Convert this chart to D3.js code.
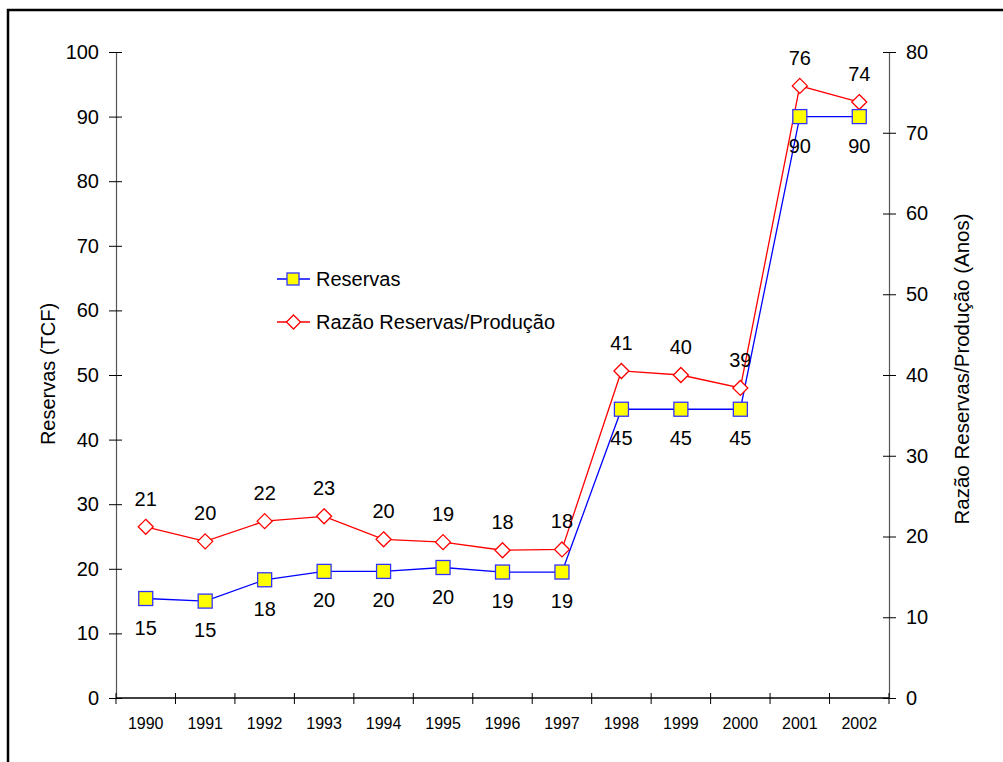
<!DOCTYPE html>
<html>
<head>
<meta charset="utf-8">
<script src="https://cdn.jsdelivr.net/npm/d3@7.9.0/dist/d3.min.js"></script>
<style>
  body { margin: 0; background: #fff; }
  svg { display: block; font-family: "Liberation Sans", Arial, sans-serif; }
</style>
</head>
<body>
<div id="chart"></div>
<script>
const years = ['1990','1991','1992','1993','1994','1995','1996','1997','1998','1999','2000','2001','2002'];
const reservas = [15.4, 15.0, 18.3, 19.6, 19.6, 20.2, 19.5, 19.5, 44.7, 44.7, 44.7, 90.0, 90.0];
const reservasLabels = ['15','15','18','20','20','20','19','19','45','45','45','90','90'];
const razao = [21.2, 19.4, 21.9, 22.5, 19.65, 19.3, 18.3, 18.4, 40.5, 40.0, 38.4, 75.8, 73.8];
const razaoLabels = ['21','20','22','23','20','19','18','18','41','40','39','76','74'];
const leftTicks = [0,10,20,30,40,50,60,70,80,90,100];
const rightTicks = [0,10,20,30,40,50,60,70,80];

const width = 1003, height = 762;
const area = { left: 116, right: 889, top: 52, bottom: 698 };
const fontBig = 20;

const svg = d3.select('#chart').append('svg')
  .attr('width', width).attr('height', height);

// frame
svg.append('rect')
  .attr('x', 8).attr('y', 10)
  .attr('width', 1010).attr('height', 780)
  .attr('fill', 'none').attr('stroke', '#000').attr('stroke-width', 2.5);

const x = d3.scaleBand().domain(years).range([area.left, area.right]);
const yL = d3.scaleLinear().domain([0, 100]).range([area.bottom, area.top]);
const yR = d3.scaleLinear().domain([0, 80]).range([area.bottom, area.top]);
const cx = d => x(d) + x.bandwidth() / 2;

// left axis
const gL = svg.append('g').attr('transform', `translate(${area.left},0)`)
  .call(d3.axisLeft(yL).tickValues(leftTicks).tickSize(7).tickPadding(10));
gL.select('.domain').attr('stroke', '#555').attr('stroke-width', 1.2);
gL.selectAll('.tick line').attr('x2', 6).attr('x1', -7).attr('stroke', '#000');
gL.selectAll('.tick text').attr('font-size', fontBig).attr('fill', '#000')
  .attr('font-family', '"Liberation Sans", Arial, sans-serif');

// right axis
const gR = svg.append('g').attr('transform', `translate(${area.right},0)`)
  .call(d3.axisRight(yR).tickValues(rightTicks).tickSize(7).tickPadding(10));
gR.select('.domain').attr('stroke', '#555').attr('stroke-width', 1.2);
gR.selectAll('.tick line').attr('x1', -6).attr('x2', 7).attr('stroke', '#000');
gR.selectAll('.tick text').attr('font-size', fontBig).attr('fill', '#000')
  .attr('font-family', '"Liberation Sans", Arial, sans-serif');

// x axis with boundary ticks
const gX = svg.append('g').attr('transform', `translate(0,${area.bottom})`);
gX.append('line').attr('x1', area.left).attr('x2', area.right)
  .attr('stroke', '#000').attr('stroke-width', 1.3);
const bounds = years.map(d => x(d)).concat([area.right]);
gX.selectAll('line.tk').data(bounds).join('line').attr('class', 'tk')
  .attr('x1', d => d).attr('x2', d => d).attr('y1', -5).attr('y2', 6)
  .attr('stroke', '#000');
gX.selectAll('text').data(years).join('text')
  .attr('x', d => cx(d)).attr('y', 31)
  .attr('text-anchor', 'middle').attr('font-size', 16).text(d => d);

// axis titles
svg.append('text')
  .attr('transform', `translate(55,${(area.top + area.bottom) / 2 - 1}) rotate(-90)`)
  .attr('text-anchor', 'middle').attr('font-size', fontBig).text('Reservas (TCF)');
svg.append('text')
  .attr('transform', `translate(969,${(area.top + area.bottom) / 2 - 6}) rotate(-90)`)
  .attr('text-anchor', 'middle').attr('font-size', 20.5).text('Razão Reservas/Produção (Anos)');

// lines
const lineL = d3.line().x((d, i) => cx(years[i])).y(d => yL(d));
const lineR = d3.line().x((d, i) => cx(years[i])).y(d => yR(d));

svg.append('path').datum(razao).attr('d', lineR)
  .attr('fill', 'none').attr('stroke', '#ff0000').attr('stroke-width', 1.3);
svg.append('path').datum(reservas).attr('d', lineL)
  .attr('fill', 'none').attr('stroke', '#0000ff').attr('stroke-width', 1.3);

const diamond = s => `M0,${-s} L${s},0 L0,${s} L${-s},0 Z`;

svg.append('g').selectAll('path').data(razao).join('path')
  .attr('transform', (d, i) => `translate(${cx(years[i])},${yR(d)})`)
  .attr('d', diamond(7.5))
  .attr('fill', '#fff').attr('stroke', '#ff0000').attr('stroke-width', 1.3);

svg.append('g').selectAll('rect').data(reservas).join('rect')
  .attr('x', (d, i) => cx(years[i]) - 7).attr('y', d => yL(d) - 7)
  .attr('width', 14).attr('height', 14)
  .attr('fill', '#ffff00').attr('stroke', '#3333ff').attr('stroke-width', 1.3);

// data labels
svg.append('g').selectAll('text').data(razao).join('text')
  .attr('x', (d, i) => cx(years[i])).attr('y', d => yR(d) - 21)
  .attr('text-anchor', 'middle').attr('font-size', fontBig)
  .text((d, i) => razaoLabels[i]);

svg.append('g').selectAll('text').data(reservas).join('text')
  .attr('x', (d, i) => cx(years[i])).attr('y', d => yL(d) + 36)
  .attr('text-anchor', 'middle').attr('font-size', fontBig)
  .text((d, i) => reservasLabels[i]);

// legend
const legend = svg.append('g').attr('transform', 'translate(277,279)');
legend.append('line').attr('x1', 0).attr('x2', 33).attr('y1', 0).attr('y2', 0)
  .attr('stroke', '#0000ff').attr('stroke-width', 1.3);
legend.append('rect').attr('x', 10).attr('y', -6).attr('width', 12).attr('height', 12)
  .attr('fill', '#ffff00').attr('stroke', '#3333ff').attr('stroke-width', 1.3);
legend.append('text').attr('x', 39).attr('y', 7).attr('font-size', fontBig).text('Reservas');

legend.append('line').attr('x1', 0).attr('x2', 33).attr('y1', 43).attr('y2', 43)
  .attr('stroke', '#ff0000').attr('stroke-width', 1.3);
legend.append('path').attr('transform', 'translate(16.5,43)').attr('d', diamond(7))
  .attr('fill', '#fff').attr('stroke', '#ff0000').attr('stroke-width', 1.3);
legend.append('text').attr('x', 39).attr('y', 50).attr('font-size', fontBig).text('Razão Reservas/Produção');
</script>
</body>
</html>
